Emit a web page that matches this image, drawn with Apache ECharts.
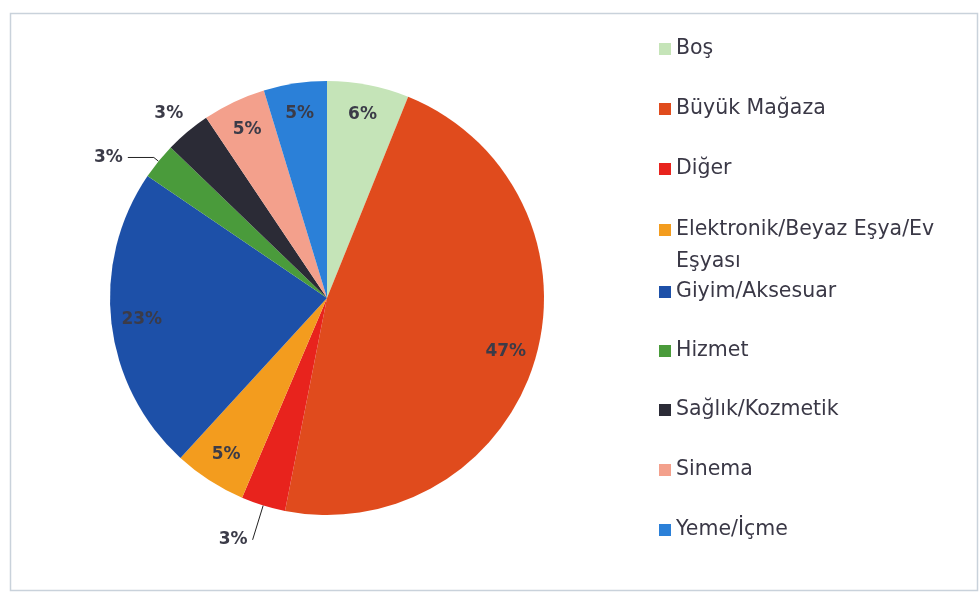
<!DOCTYPE html>
<html><head><meta charset="utf-8">
<script src="https://cdn.jsdelivr.net/npm/echarts@6/dist/echarts.min.js"></script>
<style>html,body{margin:0;padding:0;background:#fff}#c{width:980px;height:597px}</style>
</head><body><div id="c"></div>
<script>
const categories = ['Boş','Büyük Mağaza','Diğer','Elektronik/Beyaz Eşya/Ev Eşyası','Giyim/Aksesuar','Hizmet','Sağlık/Kozmetik','Sinema','Yeme/İçme'];
const values = [6.1, 47.0, 3.3, 5.4, 22.7, 2.7, 3.4, 4.7, 4.7];
const colors = ['#c5e4b8','#e04b1d','#e8231d','#f39c1e','#1d50a8','#4a9b3b','#2b2b36','#f3a08c','#2b80d8'];
const legendCenters = [49,109,169,230,292,351,410,470,530];

const CX = 327, CY = 298, R = 217;
const FONT = 'DejaVu Sans';
const labelColor = '#3b3b48';

// per-item label placement for the small outside slices
const outsideCfg = {
  2: {length: 36, length2: 0, show: true, pad: [0,0,0,0]},
  5: {length: 6, length2: 26, show: true, pad: [0,0,0,0]},
  6: {length: 24, length2: 0, show: false, pad: [0,-16,0,0]}
};

const mainData = categories.map((n,i)=>({name:n, value:values[i], itemStyle:{color:colors[i]}}));
const labelData = categories.map((n,i)=>{
  const d = {name:n, value:values[i]};
  const oc = outsideCfg[i];
  if (oc) {
    d.label = {position:'outside', distance:3, padding: oc.pad};
    d.labelLine = {show: oc.show, length: oc.length, length2: oc.length2, smooth:false,
      lineStyle:{color:'#222', width:1}};
  }
  return d;
});

const legends = categories.map((n,i)=>{
  const twoLine = i === 3;
  const lh = twoLine ? 32 : 24;
  const top = twoLine ? legendCenters[i] - 48 : legendCenters[i] - 12;
  return {
    data:[n], orient:'vertical', left:659, top: top, padding:0,
    itemWidth:12, itemHeight:12, icon:'rect', selectedMode:false,
    formatter: twoLine ? (()=>'\nElektronik/Beyaz Eşya/Ev\nEşyası') : undefined,
    textStyle:{fontFamily:FONT, fontSize:20.5, color:'#3a3846', lineHeight:lh}
  };
});

const chart = echarts.init(document.getElementById('c'));
chart.setOption({
  animation:false,
  backgroundColor:'#fff',
  graphic:[{type:'rect', shape:{x:10.5,y:13.5,width:967,height:577},
    style:{fill:'none', stroke:'#c9d2db', lineWidth:1.5}, silent:true}],
  legend: legends,
  series:[
    {type:'pie', center:[CX,CY], radius:[0,R], startAngle:90, clockwise:true,
     data: mainData, label:{show:false}, labelLine:{show:false}, silent:true,
     emphasis:{disabled:true}, itemStyle:{borderWidth:0}},
    {type:'pie', center:[CX,CY], radius:[150,R], startAngle:90, clockwise:true,
     data: labelData, silent:true, avoidLabelOverlap:false, legendHoverLink:false,
     emphasis:{disabled:true},
     itemStyle:{color:'rgba(0,0,0,0)', borderWidth:0},
     label:{show:true, position:'inside', fontFamily:FONT, fontSize:17, fontWeight:'bold',
       color:labelColor, formatter: p => Math.round(p.value) + '%'},
     labelLine:{show:false}}
  ]
});
</script></body></html>
